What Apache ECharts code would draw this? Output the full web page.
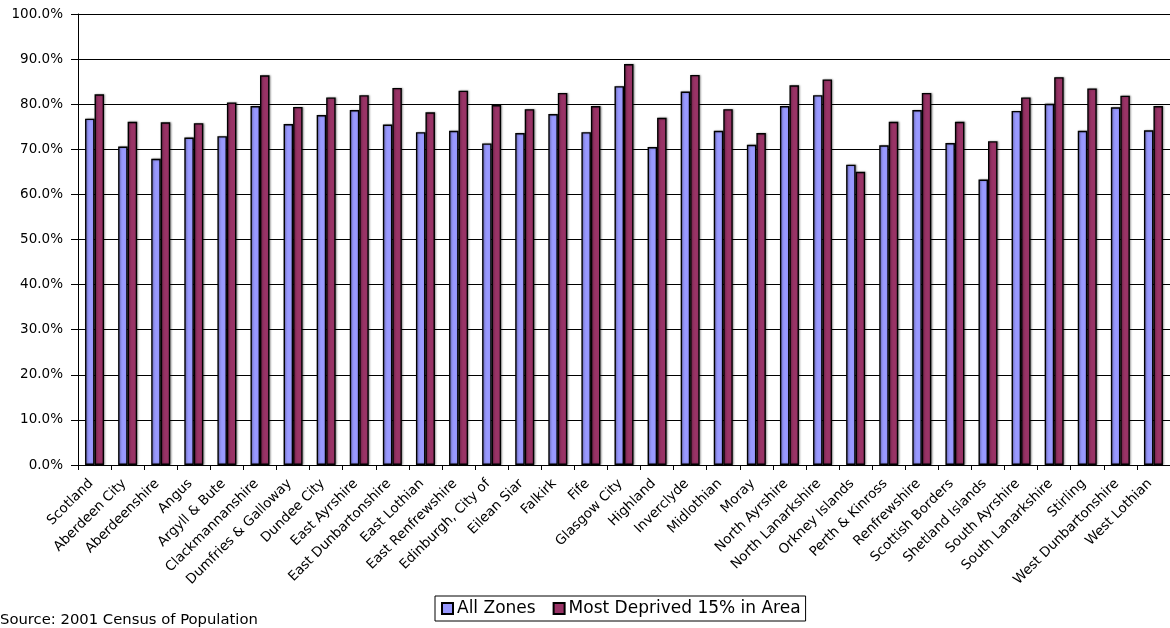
<!DOCTYPE html>
<html>
<head>
<meta charset="utf-8">
<script src="https://cdn.jsdelivr.net/npm/echarts@6/dist/echarts.min.js"></script>
<style>
html,body{margin:0;padding:0;background:#fff;}
#chart{width:1170px;height:628px;}
</style>
</head>
<body>
<div id="chart"></div>
<script>
const categories = ["Scotland","Aberdeen City","Aberdeenshire","Angus","Argyll & Bute","Clackmannanshire","Dumfries & Galloway","Dundee City","East Ayrshire","East Dunbartonshire","East Lothian","East Renfrewshire","Edinburgh, City of","Eilean Siar","Falkirk","Fife","Glasgow City","Highland","Inverclyde","Midlothian","Moray","North Ayrshire","North Lanarkshire","Orkney Islands","Perth & Kinross","Renfrewshire","Scottish Borders","Shetland Islands","South Ayrshire","South Lanarkshire","Stirling","West Dunbartonshire","West Lothian"];
const allZones = [76.8,70.6,67.9,72.6,72.9,79.6,75.6,77.6,78.7,75.5,73.8,74.1,71.3,73.6,77.8,73.8,84.0,70.5,82.8,74.1,71.0,79.6,82.0,66.6,70.9,78.7,71.4,63.3,78.5,80.1,74.1,79.3,74.2];
const mostDeprived = [82.2,76.1,76.0,75.8,80.4,86.4,79.4,81.5,82.0,83.6,78.2,83.0,79.8,78.9,82.5,79.6,88.9,77.0,86.5,78.9,73.6,84.2,85.5,65.0,76.1,82.5,76.1,71.8,81.5,86.0,83.5,81.9,79.6];
const yTicks = {min:0, max:100, interval:10};
const seriesNames = ["All Zones","Most Deprived 15% in Area"];
const sourceText = "Source: 2001 Census of Population";

const chart = echarts.init(document.getElementById('chart'), null, {renderer:'canvas'});
const font = 'DejaVu Sans';
const barStyle = (c) => ({color:c, borderColor:'#000', borderWidth:1.4, shadowColor:'rgba(0,0,0,0.35)', shadowBlur:2, shadowOffsetX:1, shadowOffsetY:0});
chart.setOption({
  animation:false,
  backgroundColor:'#fff',
  textStyle:{fontFamily:font},
  grid:{left:78, top:14, width:1099, height:451, containLabel:false},
  graphic:[{type:'text', left:0, top:613, style:{text:sourceText, font:'14.8px "DejaVu Sans"', fill:'#000'}}],
  legend:{
    data:seriesNames, left:435, top:596, orient:'horizontal',
    icon:'rect', itemWidth:11, itemHeight:11, itemGap:17,
    borderColor:'#000', borderWidth:1, padding:[4,5,4,6],
    textStyle:{fontFamily:font, fontSize:17, color:'#000', padding:[0,0,0,-1]}
  },
  xAxis:{
    type:'category', data:categories,
    axisLine:{lineStyle:{color:'#000', width:1}},
    axisTick:{show:true, length:5, lineStyle:{color:'#000'}},
    axisLabel:{rotate:45, interval:0, fontFamily:font, fontSize:13.5, color:'#000', margin:13, padding:[0,5,0,0]}
  },
  yAxis:{
    type:'value', min:yTicks.min, max:yTicks.max, interval:yTicks.interval,
    axisLine:{show:true, lineStyle:{color:'#000', width:1}},
    axisTick:{show:true, length:7, lineStyle:{color:'#000'}},
    splitLine:{show:true, lineStyle:{color:'#000', width:1}},
    axisLabel:{fontFamily:font, fontSize:13.5, color:'#000', margin:15, formatter:v=>v.toFixed(1)+'%'}
  },
  series:[
    {name:seriesNames[0], type:'bar', data:allZones, barWidth:9.5, barGap:'0%', itemStyle:barStyle('#9999FF')},
    {name:seriesNames[1], type:'bar', data:mostDeprived, barWidth:9.5, barGap:'0%', itemStyle:barStyle('#993366')}
  ]
});
</script>
</body>
</html>
